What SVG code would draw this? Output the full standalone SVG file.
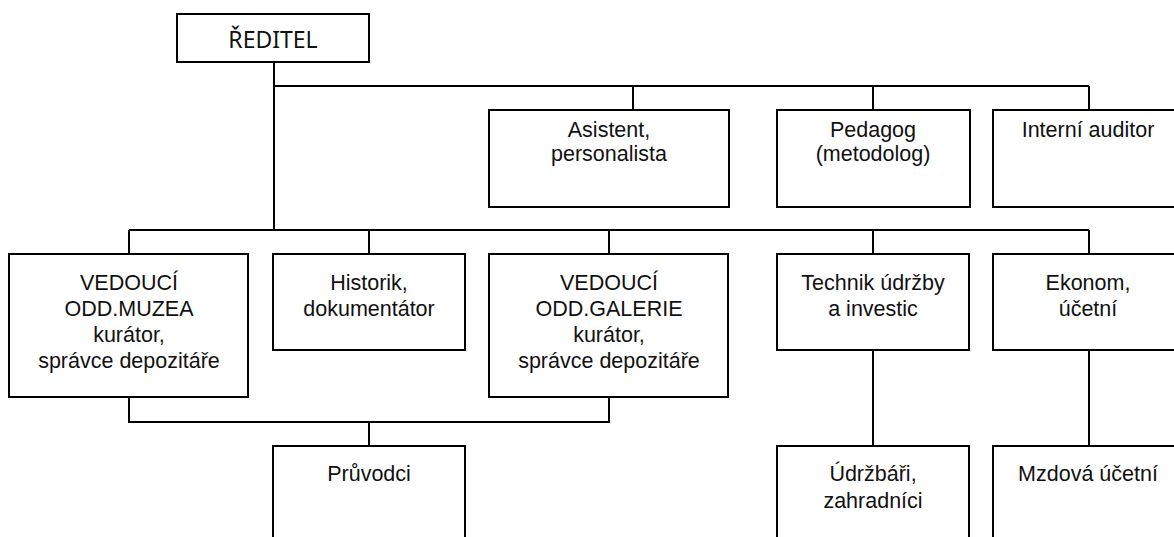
<svg xmlns="http://www.w3.org/2000/svg" width="1174" height="537" viewBox="0 0 1174 537">
<style>
  .box { fill: #ffffff; stroke: #000000; stroke-width: 2; }
  .open { fill: none; stroke: #000000; stroke-width: 2; }
  .t { font-family: "Liberation Sans", Arial, sans-serif; font-size: 21.5px; fill: #111111; text-anchor: middle; }
  .top { font-family: "Noto Sans", "Liberation Sans", sans-serif; font-size: 23px; fill: #111111; text-anchor: middle; }
  .conn { fill: none; stroke: #000000; stroke-width: 2; }
</style>
<rect width="1174" height="537" fill="#ffffff"/>
<g id="connectors">
  <path class="conn" d="M274 62 V230"/>
  <path class="conn" d="M274 86 H1089"/>
  <path class="conn" d="M633 86 V110 M873 86 V110 M1089 86 V110"/>
  <path class="conn" d="M129 230 H1089"/>
  <path class="conn" d="M129 230 V254 M369 230 V254 M609 230 V254 M873 230 V254 M1089 230 V254"/>
  <path class="conn" d="M129 397 V422 H609 V397"/>
  <path class="conn" d="M369 422 V446"/>
  <path class="conn" d="M873 350 V446"/>
  <path class="conn" d="M1089 350 V446"/>
</g>
<g id="reditel">
  <rect class="box" x="177" y="14" width="192" height="48"/>
  <text class="top" x="273" y="48">ŘEDITEL</text>
</g>
<g id="asistent">
  <rect class="box" x="489" y="110" width="240" height="97"/>
  <text class="t" x="609" y="137">Asistent,</text>
  <text class="t" x="609" y="161">personalista</text>
</g>
<g id="pedagog">
  <rect class="box" x="777" y="110" width="193" height="97"/>
  <text class="t" x="873" y="137">Pedagog</text>
  <text class="t" x="873" y="161">(metodolog)</text>
</g>
<g id="auditor">
  <rect class="box" x="993" y="110" width="200" height="97"/>
  <text class="t" x="1088" y="137">Interní auditor</text>
</g>
<g id="vedouci-muzea">
  <rect class="box" x="9" y="254" width="239" height="143"/>
  <text class="t" x="129" y="290">VEDOUCÍ</text>
  <text class="t" x="129" y="316">ODD.MUZEA</text>
  <text class="t" x="129" y="342">kurátor,</text>
  <text class="t" x="129" y="368">správce depozitáře</text>
</g>
<g id="historik">
  <rect class="box" x="273" y="254" width="192" height="96"/>
  <text class="t" x="369" y="290">Historik,</text>
  <text class="t" x="369" y="316">dokumentátor</text>
</g>
<g id="vedouci-galerie">
  <rect class="box" x="489" y="254" width="239" height="143"/>
  <text class="t" x="609" y="290">VEDOUCÍ</text>
  <text class="t" x="609" y="316">ODD.GALERIE</text>
  <text class="t" x="609" y="342">kurátor,</text>
  <text class="t" x="609" y="368">správce depozitáře</text>
</g>
<g id="technik">
  <rect class="box" x="777" y="254" width="192" height="96"/>
  <text class="t" x="873" y="290">Technik údržby</text>
  <text class="t" x="873" y="316">a investic</text>
</g>
<g id="ekonom">
  <rect class="box" x="993" y="254" width="200" height="96"/>
  <text class="t" x="1088" y="290">Ekonom,</text>
  <text class="t" x="1088" y="316">účetní</text>
</g>
<g id="pruvodci">
  <path class="open" d="M273 560 V446 H465 V560"/>
  <text class="t" x="369" y="481">Průvodci</text>
</g>
<g id="udrzbari">
  <path class="open" d="M777 560 V446 H969 V560"/>
  <text class="t" x="873" y="481">Údržbáři,</text>
  <text class="t" x="873" y="508">zahradníci</text>
</g>
<g id="mzdova">
  <path class="open" d="M993 560 V446 H1180"/>
  <text class="t" x="1088" y="481">Mzdová účetní</text>
</g>
</svg>
